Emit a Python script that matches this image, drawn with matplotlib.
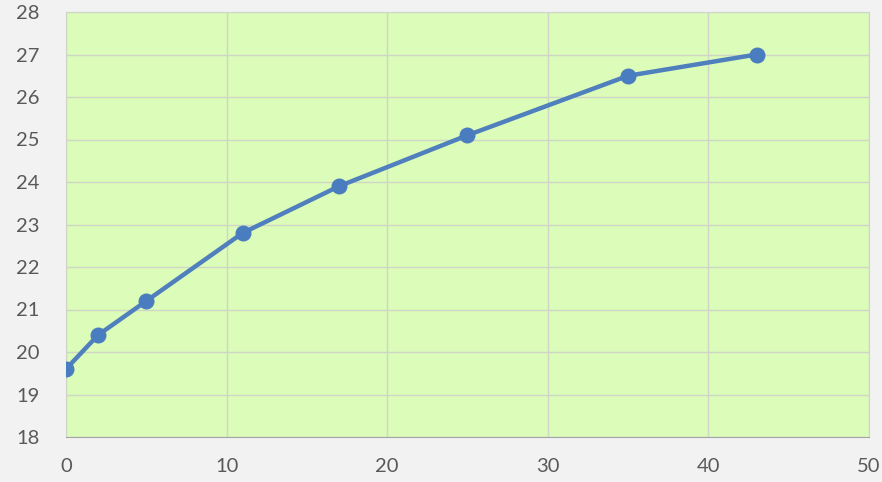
import matplotlib.pyplot as plt

x_vals = [0, 2, 5, 11, 17, 25, 35, 43]
y_vals = [19.6, 20.4, 21.2, 22.8, 23.9, 25.1, 26.5, 27.0]
x_ticks = [0, 10, 20, 30, 40, 50]
y_ticks = [18, 19, 20, 21, 22, 23, 24, 25, 26, 27, 28]

plt.rcParams["font.family"] = ["Lato", "DejaVu Sans"]

fig = plt.figure(figsize=(8.82, 4.82), dpi=100, facecolor="#f2f2f2")
ax = fig.add_axes([66 / 882, 1 - 437 / 482, (869 - 66) / 882, (437 - 12) / 482])
ax.set_facecolor("#dcfcb9")

ax.plot(x_vals, y_vals, "-o", color="#4f7fbd", lw=3.2, ms=10.5,
        markerfacecolor="#4a7dbf", markeredgecolor="#4a7dbf", zorder=3)

ax.set_xlim(0, 50)
ax.set_ylim(18, 28)
ax.set_xticks(x_ticks)
ax.set_yticks(y_ticks)
ax.grid(True, color="#cfd6c8", lw=1)
ax.set_axisbelow(True)
ax.tick_params(length=0, labelsize=14.5, labelcolor="#595959")
ax.tick_params(axis="x", pad=15)
ax.tick_params(axis="y", pad=19)
for side in ("top", "right", "left"):
    ax.spines[side].set_color("#cfd6c8")
ax.spines["bottom"].set_color("#a6a6a6")

fig.savefig("out.png", dpi=100, facecolor=fig.get_facecolor())
